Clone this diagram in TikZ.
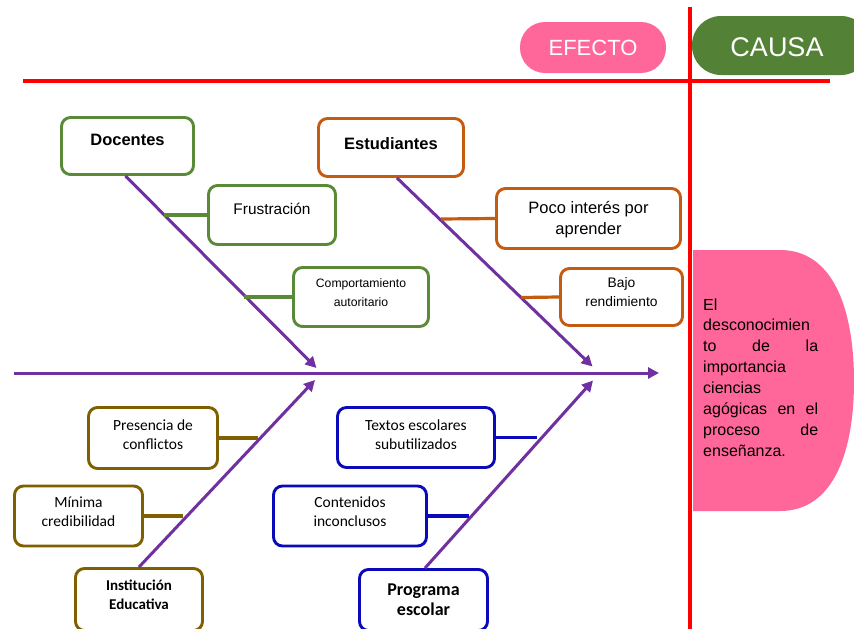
\documentclass[tikz,border=0pt]{standalone}
\usepackage{fontspec}
\setmainfont{Liberation Sans}
\newfontfamily\calib{Carlito}
\usetikzlibrary{arrows.meta}
\definecolor{myred}{HTML}{FF0000}
\definecolor{mypink}{HTML}{FF6699}
\definecolor{causagreen}{HTML}{538135}
\definecolor{boxgreen}{HTML}{5A8A38}
\definecolor{boxorange}{HTML}{C55A11}
\definecolor{boxbrown}{HTML}{7F6000}
\definecolor{boxblue}{HTML}{0A0AB8}
\definecolor{fishpurple}{HTML}{7030A0}
\tikzset{
  bx/.style={draw=#1, rounded corners=9pt, line width=2.9pt, fill=white, inner sep=0pt},
  lbl/.style={inner sep=0pt, align=center},
  bone/.style={draw=fishpurple, line width=3pt, -{Triangle[length=11pt,width=11pt]}},
  twig/.style={draw=#1, line width=3.2pt},
  pill/.style={inner sep=0pt, text=white}
}
\begin{document}
\begin{tikzpicture}[x=1pt,y=-1pt]
\useasboundingbox (0,0) rectangle (854,629);
\fill[white] (0,0) rectangle (854,629);

% header pills
\node[pill, fill=mypink, rounded corners=25pt, minimum width=146pt, minimum height=51pt] (efecto) at (593,47.5) {};
\node[inner sep=0pt, text=white, font=\fontsize{22}{26}\selectfont] (efectotxt) at (593,48) {EFECTO};
\node[pill, fill=causagreen, rounded corners=29pt, minimum width=178pt, minimum height=59pt] (causa) at (781,45.5) {};
\node[inner sep=0pt, text=white, font=\fontsize{27}{30}\selectfont] (causatxt) at (777,47) {CAUSA};

% red lines
\draw[myred, line width=3.5pt] (23,81) -- (830,81);
\draw[myred, line width=3.5pt] (690,7) -- (690,632);

% pink effect shape
\fill[mypink] (693,250) -- (780,250) .. controls (836,250) and (854,315) .. (854,381)
   .. controls (854,447) and (836,511) .. (780,511) -- (693,511) -- cycle;
\node[anchor=base west, inner sep=0pt, font=\fontsize{16}{20.9}\selectfont] (efftxt) at (703,310)
{\vtop{\hsize=115pt \parindent=0pt \baselineskip=20.9pt \lineskip=0pt \lineskiplimit=-20pt
\hbox to 115pt{El\hfil}
\hbox to 115pt{desconocimien\hfil}
\hbox to 115pt{to\hfill de\hfill la}
\hbox to 115pt{importancia\hfil}
\hbox to 115pt{ciencias\hfil}
\hbox to 115pt{agógicas\hfill en\hfill el}
\hbox to 115pt{proceso\hfill de}
\hbox to 115pt{enseñanza.\hfil}}};

% spine
\coordinate (spS) at (14,373);
\coordinate (spE) at (659,373);
\draw[bone] (spS) -- (spE);

% upper left: Docentes
\node[bx=boxgreen, minimum width=132pt, minimum height=57pt,
  label={[lbl, yshift=6.5pt, font=\fontsize{16.5}{20}\selectfont\bfseries]center:Docentes}] (doc) at (127.5,146) {};
\node[bx=boxgreen, minimum width=127pt, minimum height=59pt,
  label={[lbl, yshift=6.5pt, font=\fontsize{15.4}{19}\selectfont]center:Frustración}] (fru) at (272,215) {};
\node[bx=boxgreen, minimum width=135pt, minimum height=59pt,
  label={[lbl, yshift=4.5pt, font=\fontsize{12.2}{19}\selectfont]center:Comportamiento\\autoritario}] (comp) at (361,297) {};
\coordinate (tipA) at (316.5,368);
\draw[bone] ([xshift=-2pt]doc.south) -- (tipA);
\coordinate (jA1) at (164,215);
\coordinate (jA2) at (244,297);
\draw[twig=boxgreen] (fru.west) -- (jA1);
\draw[twig=boxgreen] (comp.west) -- (jA2);

% upper right: Estudiantes
\node[bx=boxorange, minimum width=145pt, minimum height=58pt,
  label={[lbl, yshift=3.7pt, font=\fontsize{16.5}{20}\selectfont\bfseries]center:Estudiantes}] (est) at (391,147.5) {};
\node[bx=boxorange, minimum width=184pt, minimum height=60pt,
  label={[lbl, yshift=-1pt, font=\fontsize{16.5}{20.5}\selectfont]center:Poco interés por\\aprender}] (poco) at (588.5,218.5) {};
\node[bx=boxorange, minimum width=122pt, minimum height=57pt,
  label={[lbl, yshift=4.5pt, font=\fontsize{13.8}{19}\selectfont]center:Bajo\\rendimiento}] (bajo) at (621.5,297) {};
\coordinate (tipB) at (592.5,366.5);
\draw[bone] ([xshift=6pt]est.south) -- (tipB);
\coordinate (jB1) at (441,219);
\coordinate (jB2) at (521,297.5);
\draw[twig=boxorange] (poco.west) -- (jB1);
\draw[twig=boxorange] (bajo.west) -- (jB2);

% lower left: Institucion Educativa
\node[bx=boxbrown, minimum width=127pt, minimum height=62pt,
  label={[lbl, yshift=5pt, font=\calib\fontsize{15}{19}\selectfont\bfseries]center:Institución\\Educativa}] (inst) at (139,599.5) {};
\node[bx=boxbrown, minimum width=129pt, minimum height=61pt,
  label={[lbl, yshift=3.5pt, font=\calib\fontsize{15.5}{19}\selectfont]center:Presencia de\\conflictos}] (pres) at (153,438) {};
\node[bx=boxbrown, minimum width=128pt, minimum height=60pt,
  label={[lbl, yshift=4pt, font=\calib\fontsize{15.5}{19}\selectfont]center:Mínima\\credibilidad}] (mini) at (78.5,516) {};
\coordinate (tipC) at (315,380);
\draw[bone] (inst.north) -- (tipC);
\coordinate (jC1) at (258,438);
\coordinate (jC2) at (183,516);
\draw[twig=boxbrown] (pres.east) -- (jC1);
\draw[twig=boxbrown] (mini.east) -- (jC2);

% lower right: Programa escolar
\node[bx=boxblue, minimum width=128pt, minimum height=61pt,
  label={[lbl, yshift=0.5pt, font=\calib\fontsize{18}{20}\selectfont\bfseries]center:Programa\\escolar}] (prog) at (423.5,600) {};
\node[bx=boxblue, minimum width=157pt, minimum height=60pt,
  label={[lbl, yshift=3pt, font=\calib\fontsize{15.5}{19}\selectfont]center:Textos escolares\\subutilizados}] (text) at (416,437.5) {};
\node[bx=boxblue, minimum width=153pt, minimum height=60pt,
  label={[lbl, yshift=4pt, font=\calib\fontsize{15.5}{19}\selectfont]center:Contenidos\\inconclusos}] (cont) at (350,516) {};
\coordinate (tipD) at (593,380.5);
\draw[bone] ([xshift=1.5pt]prog.north) -- (tipD);
\coordinate (jD1) at (537,437.5);
\coordinate (jD2) at (469,516);
\draw[twig=boxblue] (text.east) -- (jD1);
\draw[twig=boxblue] (cont.east) -- (jD2);
\end{tikzpicture}
\end{document}
